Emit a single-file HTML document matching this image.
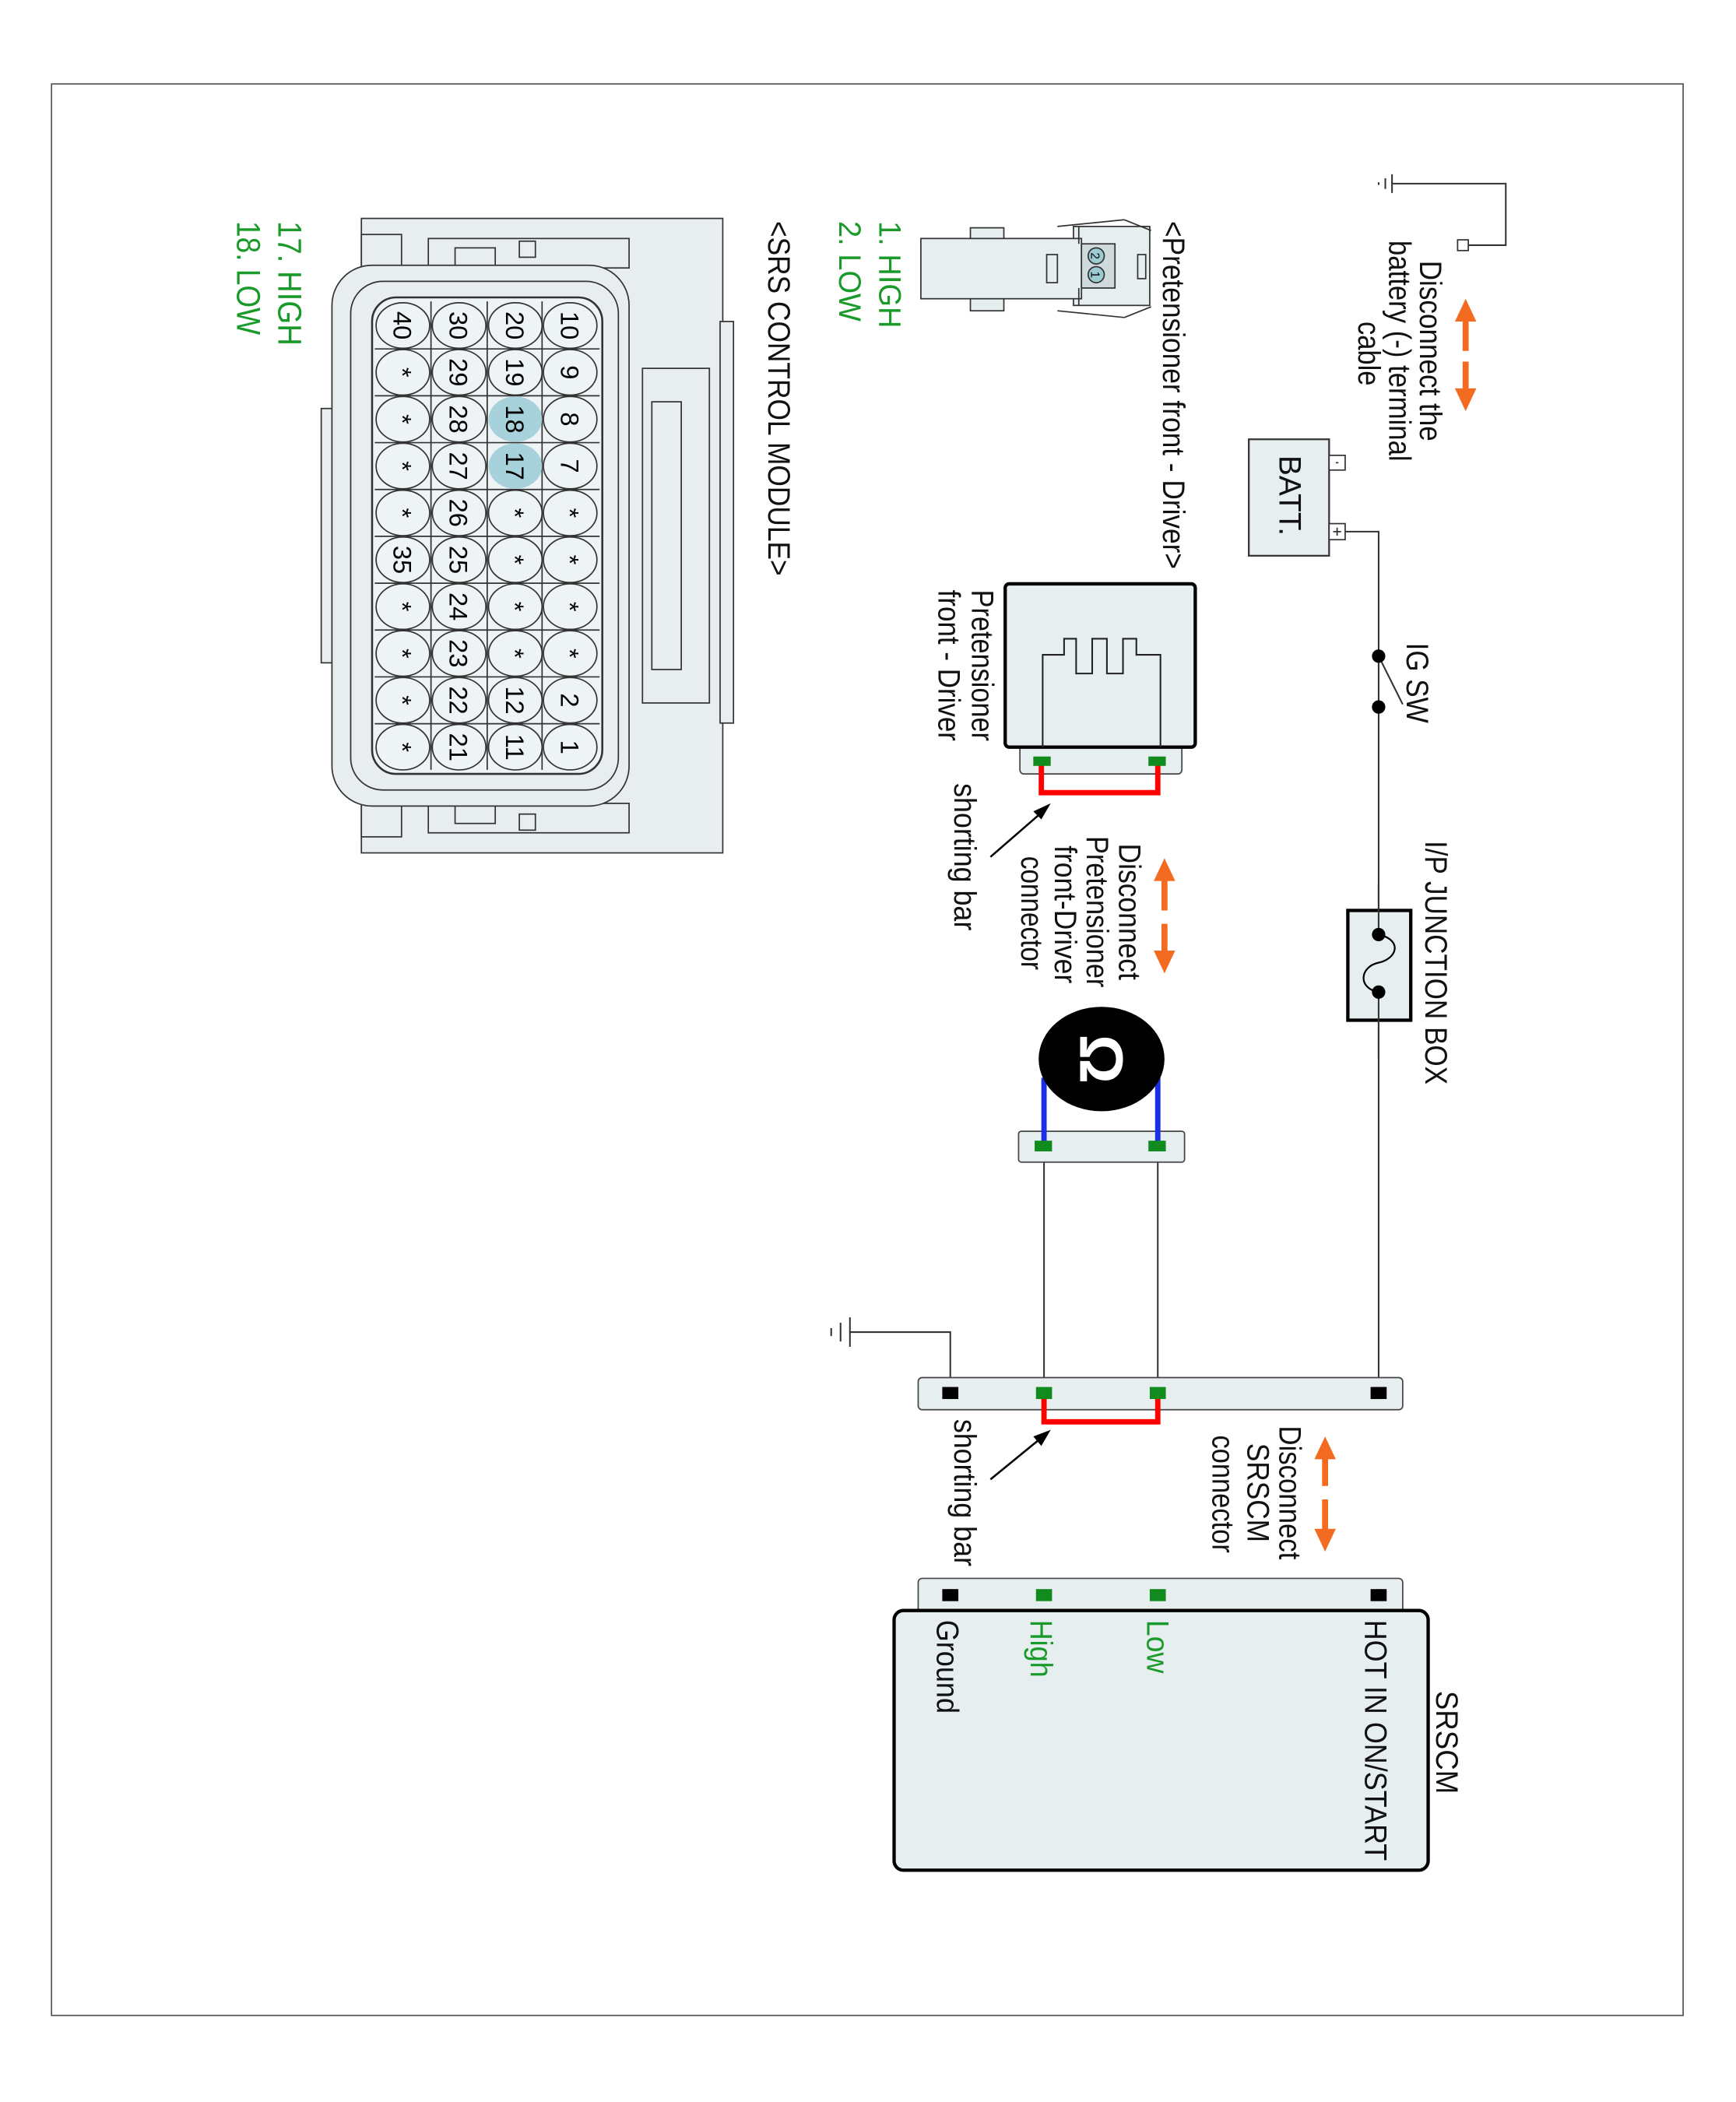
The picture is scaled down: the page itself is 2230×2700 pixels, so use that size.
<!DOCTYPE html>
<html><head><meta charset="utf-8"><style>html,body{margin:0;padding:0;background:#fff}svg{display:block}text{font-family:"Liberation Sans",sans-serif}</style></head>
<body>
<svg width="2230" height="2700" viewBox="0 0 1297 1570" xmlns="http://www.w3.org/2000/svg">
<rect x="0" y="0" width="1297" height="1570" fill="#fff"/>
<rect x="38.5" y="62.5" width="1219" height="1443" fill="none" stroke="#555" stroke-width="1"/>

<g stroke="#333" stroke-width="1.2" fill="none">
<polyline points="1097,183 1125,183 1125,137 1040,137"/>
<line x1="1040" y1="130" x2="1040" y2="144"/><line x1="1035" y1="133" x2="1035" y2="141"/><line x1="1030" y1="136" x2="1030" y2="138"/>
<polyline points="1005,397 1030,397 1030,1040"/>
<line x1="1030" y1="490" x2="1048" y2="526"/>
<polyline points="710,1040 710,995 635,995"/>
<line x1="635" y1="984" x2="635" y2="1006"/><line x1="628" y1="988" x2="628" y2="1002"/><line x1="621" y1="992" x2="621" y2="998"/>
<line x1="865" y1="856" x2="865" y2="1040"/><line x1="780" y1="856" x2="780" y2="1040"/>
</g>
<rect x="1089" y="179" width="8" height="8" fill="#fff" stroke="#333"/>

<rect x="933" y="328" width="60" height="87" fill="#e7eef0" stroke="#333" stroke-width="1.3"/>
<rect x="993" y="340" width="12" height="11" fill="#fff" stroke="#333"/>
<rect x="993" y="391" width="12" height="12" fill="#fff" stroke="#333"/>
<line x1="996" y1="397" x2="1002" y2="397" stroke="#333"/><line x1="999" y1="394" x2="999" y2="400" stroke="#333"/>
<line x1="998" y1="345.5" x2="1000" y2="345.5" stroke="#333"/>
<circle cx="1030" cy="490" r="5" fill="#000"/><circle cx="1030" cy="528" r="5" fill="#000"/>

<rect x="1007" y="680" width="47" height="82" fill="#e7eef0" stroke="#000" stroke-width="2.5"/>
<line x1="1030" y1="660" x2="1030" y2="698" stroke="#333" stroke-width="1.2"/>
<line x1="1030" y1="741" x2="1030" y2="790" stroke="#333" stroke-width="1.2"/>
<path d="M1030,698 C1048,702 1044,716 1030,719 C1016,722 1014,738 1030,741" fill="none" stroke="#000" stroke-width="1.3"/>
<circle cx="1030" cy="698" r="5" fill="#000"/><circle cx="1030" cy="741" r="5" fill="#000"/>

<g fill="#f26b21" stroke="#f26b21" stroke-width="4.5">
<line x1="1095" y1="236" x2="1095" y2="262"/><polygon points="1087,240 1103,240 1095,223" stroke="none"/>
<line x1="1095" y1="270" x2="1095" y2="294"/><polygon points="1087,290 1103,290 1095,307" stroke="none"/>
<line x1="870" y1="654" x2="870" y2="680"/><polygon points="862,658 878,658 870,641" stroke="none"/>
<line x1="870" y1="690" x2="870" y2="714"/><polygon points="862,710 878,710 870,727" stroke="none"/>
<line x1="990" y1="1086" x2="990" y2="1110"/><polygon points="982,1090 998,1090 990,1073" stroke="none"/>
<line x1="990" y1="1120" x2="990" y2="1146"/><polygon points="982,1142 998,1142 990,1159" stroke="none"/>
</g>

<rect x="762" y="556" width="121" height="22" rx="3" fill="#e7eef0" stroke="#444" stroke-width="1"/>
<rect x="751" y="436" width="142" height="122" rx="3" fill="#e7eef0" stroke="#000" stroke-width="2.5"/>
<polyline points="779,558 779,489 795,489 795,477 804,477 804,503 816,503 816,477 827,477 827,503 839,503 839,477 849,477 849,489 867,489 867,558" fill="none" stroke="#222" stroke-width="1.2"/>
<polyline points="865,568 865,592 778,592 778,568" fill="none" stroke="#f00" stroke-width="4"/>
<rect x="772" y="565" width="13" height="7" fill="#118a1e"/><rect x="858" y="565" width="13" height="7" fill="#118a1e"/>
<line x1="740" y1="640" x2="778" y2="607" stroke="#000" stroke-width="1.5"/><polygon points="785,600 772,606 778,612" fill="#000"/>

<rect x="761" y="845" width="124" height="23" rx="2" fill="#e7eef0" stroke="#444"/>
<line x1="780" y1="856" x2="780" y2="805" stroke="#1a2ee6" stroke-width="4"/>
<line x1="865" y1="856" x2="865" y2="805" stroke="#1a2ee6" stroke-width="4"/>
<ellipse cx="823" cy="791" rx="47" ry="39" fill="#000"/>
<text x="823" y="791" transform="rotate(90 823 791)" font-size="46" font-weight="bold" fill="#fff" text-anchor="middle" dominant-baseline="central">Ω</text>
<rect x="773" y="852" width="13" height="8" fill="#118a1e"/><rect x="858" y="852" width="13" height="8" fill="#118a1e"/>

<rect x="686" y="1029" width="362" height="24" rx="3" fill="#e7eef0" stroke="#444"/>
<rect x="1024" y="1036" width="12" height="9" fill="#000"/><rect x="704" y="1036" width="12" height="9" fill="#000"/>
<polyline points="865,1042 865,1062 780,1062 780,1042" fill="none" stroke="#f00" stroke-width="4"/>
<rect x="859" y="1036" width="12" height="9" fill="#118a1e"/><rect x="774" y="1036" width="12" height="9" fill="#118a1e"/>
<line x1="740" y1="1105" x2="778" y2="1074" stroke="#000" stroke-width="1.5"/><polygon points="785,1068 772,1073 778,1080" fill="#000"/>

<rect x="686" y="1179" width="362" height="30" rx="3" fill="#e7eef0" stroke="#444"/>
<rect x="668" y="1203" width="399" height="194" rx="7" fill="#e7eef0" stroke="#000" stroke-width="2.5"/>
<rect x="1024" y="1187" width="12" height="9" fill="#000"/><rect x="704" y="1187" width="12" height="9" fill="#000"/>
<rect x="859" y="1187" width="12" height="9" fill="#118a1e"/><rect x="774" y="1187" width="12" height="9" fill="#118a1e"/>

<!-- small pretensioner connector -->
<g stroke="#333" stroke-width="1" fill="#e7eef0">
<rect x="725" y="170" width="25" height="62"/>
<rect x="802" y="169" width="57" height="59"/>
<rect x="688" y="178" width="120" height="45"/>
<rect x="782" y="190" width="8" height="21"/>
<rect x="808" y="182" width="25" height="33" fill="#cfdadd"/>
<rect x="850" y="190" width="6" height="18"/>
<line x1="806" y1="169" x2="806" y2="182" fill="none"/><line x1="806" y1="215" x2="806" y2="228" fill="none"/>
<line x1="790" y1="169" x2="840" y2="164" fill="none"/><line x1="790" y1="232" x2="840" y2="237" fill="none"/>
<line x1="840" y1="164" x2="860" y2="172" fill="none"/><line x1="840" y1="237" x2="860" y2="229" fill="none"/>
</g>
<circle cx="819" cy="191" r="6" fill="#9ccbd4" stroke="#333"/><circle cx="819" cy="205" r="6" fill="#9ccbd4" stroke="#333"/>
<text x="815" y="191" transform="rotate(90 815 191)" font-size="9" text-anchor="middle">2</text>
<text x="815" y="205" transform="rotate(90 815 205)" font-size="9" text-anchor="middle">1</text>

<g stroke="#333" stroke-width="1" fill="#e8eef0">
<rect x="270" y="163" width="270" height="474"/>
<rect x="538" y="240" width="10" height="300"/>
<rect x="480" y="275" width="50" height="250"/>
<rect x="487" y="300" width="22" height="200"/>
<rect x="240" y="305" width="12" height="190"/>
<rect x="270" y="175" width="30" height="25"/><rect x="270" y="600" width="30" height="25"/>
<rect x="320" y="178" width="150" height="22"/><rect x="320" y="600" width="150" height="22"/>
<rect x="340" y="185" width="30" height="15"/><rect x="340" y="600" width="30" height="15"/>
<rect x="388" y="180" width="12" height="12"/><rect x="388" y="608" width="12" height="12"/>
<rect x="248" y="198" width="222" height="404" rx="30"/>
<rect x="262" y="210" width="200" height="380" rx="24"/>
<rect x="278" y="222" width="172" height="356" rx="18" fill="#eef3f5" stroke-width="1.5"/>
</g>
<g stroke="#333" stroke-width="1">
<line x1="322" y1="225" x2="322" y2="575"/><line x1="364" y1="225" x2="364" y2="575"/><line x1="405" y1="225" x2="405" y2="575"/>
<line x1="280" y1="260.5" x2="448" y2="260.5"/><line x1="280" y1="295.5" x2="448" y2="295.5"/><line x1="280" y1="330.5" x2="448" y2="330.5"/><line x1="280" y1="365.5" x2="448" y2="365.5"/><line x1="280" y1="400.5" x2="448" y2="400.5"/><line x1="280" y1="435.5" x2="448" y2="435.5"/><line x1="280" y1="470.5" x2="448" y2="470.5"/><line x1="280" y1="505.5" x2="448" y2="505.5"/><line x1="280" y1="540.5" x2="448" y2="540.5"/>
</g>

<g font-size="23" fill="#111">
<text x="1061" y="262" transform="rotate(90 1061 262)" text-anchor="middle" textLength="135" lengthAdjust="spacingAndGlyphs">Disconnect the</text>
<text x="1038" y="262" transform="rotate(90 1038 262)" text-anchor="middle" textLength="165" lengthAdjust="spacingAndGlyphs">battery (-) terminal</text>
<text x="1015" y="264" transform="rotate(90 1015 264)" text-anchor="middle" textLength="48" lengthAdjust="spacingAndGlyphs">cable</text>
<text x="956" y="370" transform="rotate(90 956 370)" text-anchor="middle" textLength="60" lengthAdjust="spacingAndGlyphs">BATT.</text>
<text x="1051" y="480" transform="rotate(90 1051 480)" textLength="60" lengthAdjust="spacingAndGlyphs">IG SW</text>
<text x="1065" y="628" transform="rotate(90 1065 628)" textLength="182" lengthAdjust="spacingAndGlyphs">I/P JUNCTION BOX</text>
<text x="869" y="165" transform="rotate(90 869 165)" textLength="260" lengthAdjust="spacingAndGlyphs">&lt;Pretensioner front - Driver&gt;</text>
<text x="726" y="497" transform="rotate(90 726 497)" text-anchor="middle" textLength="113" lengthAdjust="spacingAndGlyphs">Pretensioner</text>
<text x="701" y="497" transform="rotate(90 701 497)" text-anchor="middle" textLength="113" lengthAdjust="spacingAndGlyphs">front - Driver</text>
<text x="836" y="681" transform="rotate(90 836 681)" text-anchor="middle" textLength="102" lengthAdjust="spacingAndGlyphs">Disconnect</text>
<text x="812" y="681" transform="rotate(90 812 681)" text-anchor="middle" textLength="113" lengthAdjust="spacingAndGlyphs">Pretensioner</text>
<text x="788" y="683" transform="rotate(90 788 683)" text-anchor="middle" textLength="103" lengthAdjust="spacingAndGlyphs">front-Driver</text>
<text x="763" y="682" transform="rotate(90 763 682)" text-anchor="middle" textLength="85" lengthAdjust="spacingAndGlyphs">connector</text>
<text x="713" y="585" transform="rotate(90 713 585)" textLength="110" lengthAdjust="spacingAndGlyphs">shorting bar</text>
<text x="713" y="1060" transform="rotate(90 713 1060)" textLength="110" lengthAdjust="spacingAndGlyphs">shorting bar</text>
<text x="956" y="1115" transform="rotate(90 956 1115)" text-anchor="middle" textLength="100" lengthAdjust="spacingAndGlyphs">Disconnect</text>
<text x="932" y="1115" transform="rotate(90 932 1115)" text-anchor="middle" textLength="74" lengthAdjust="spacingAndGlyphs">SRSCM</text>
<text x="906" y="1116" transform="rotate(90 906 1116)" text-anchor="middle" textLength="88" lengthAdjust="spacingAndGlyphs">connector</text>
<text x="1073" y="1263" transform="rotate(90 1073 1263)" textLength="77" lengthAdjust="spacingAndGlyphs">SRSCM</text>
<text x="1020" y="1210" transform="rotate(90 1020 1210)" textLength="180" lengthAdjust="spacingAndGlyphs">HOT IN ON/START</text>
<text x="700" y="1210" transform="rotate(90 700 1210)" textLength="70" lengthAdjust="spacingAndGlyphs">Ground</text>
<text x="574" y="165" transform="rotate(90 574 165)" textLength="265" lengthAdjust="spacingAndGlyphs">&lt;SRS CONTROL MODULE&gt;</text>
</g>
<g font-size="23" fill="#1a9a2a">
<text x="857" y="1210" transform="rotate(90 857 1210)" textLength="40" lengthAdjust="spacingAndGlyphs">Low</text>
<text x="770" y="1210" transform="rotate(90 770 1210)" textLength="43" lengthAdjust="spacingAndGlyphs">High</text>
<text x="657" y="165" transform="rotate(90 657 165)" textLength="80" lengthAdjust="spacingAndGlyphs">1. HIGH</text>
<text x="627" y="165" transform="rotate(90 627 165)" textLength="75" lengthAdjust="spacingAndGlyphs">2. LOW</text>
<text x="208" y="165" transform="rotate(90 208 165)" font-size="25" textLength="93" lengthAdjust="spacingAndGlyphs">17. HIGH</text>
<text x="177" y="165" transform="rotate(90 177 165)" font-size="25" textLength="85" lengthAdjust="spacingAndGlyphs">18. LOW</text>
</g>

<g stroke="#333" stroke-width="1" font-size="19" text-anchor="middle">
<ellipse cx="426" cy="243" rx="20" ry="17" fill="#eef3f5"/><text x="419" y="243" transform="rotate(90 419 243)" stroke="none">10</text>
<ellipse cx="426" cy="278" rx="20" ry="17" fill="#eef3f5"/><text x="419" y="278" transform="rotate(90 419 278)" stroke="none">9</text>
<ellipse cx="426" cy="313" rx="20" ry="17" fill="#eef3f5"/><text x="419" y="313" transform="rotate(90 419 313)" stroke="none">8</text>
<ellipse cx="426" cy="348" rx="20" ry="17" fill="#eef3f5"/><text x="419" y="348" transform="rotate(90 419 348)" stroke="none">7</text>
<ellipse cx="426" cy="383" rx="20" ry="17" fill="#eef3f5"/><text x="419" y="383" transform="rotate(90 419 383)" stroke="none">*</text>
<ellipse cx="426" cy="418" rx="20" ry="17" fill="#eef3f5"/><text x="419" y="418" transform="rotate(90 419 418)" stroke="none">*</text>
<ellipse cx="426" cy="453" rx="20" ry="17" fill="#eef3f5"/><text x="419" y="453" transform="rotate(90 419 453)" stroke="none">*</text>
<ellipse cx="426" cy="488" rx="20" ry="17" fill="#eef3f5"/><text x="419" y="488" transform="rotate(90 419 488)" stroke="none">*</text>
<ellipse cx="426" cy="523" rx="20" ry="17" fill="#eef3f5"/><text x="419" y="523" transform="rotate(90 419 523)" stroke="none">2</text>
<ellipse cx="426" cy="558" rx="20" ry="17" fill="#eef3f5"/><text x="419" y="558" transform="rotate(90 419 558)" stroke="none">1</text>

<ellipse cx="385" cy="243" rx="20" ry="17" fill="#eef3f5"/><text x="378" y="243" transform="rotate(90 378 243)" stroke="none">20</text>
<ellipse cx="385" cy="278" rx="20" ry="17" fill="#eef3f5"/><text x="378" y="278" transform="rotate(90 378 278)" stroke="none">19</text>
<ellipse cx="385" cy="313" rx="20" ry="17" fill="#a7d2db" stroke="none"/><text x="378" y="313" transform="rotate(90 378 313)" stroke="none">18</text>
<ellipse cx="385" cy="348" rx="20" ry="17" fill="#a7d2db" stroke="none"/><text x="378" y="348" transform="rotate(90 378 348)" stroke="none">17</text>
<ellipse cx="385" cy="383" rx="20" ry="17" fill="#eef3f5"/><text x="378" y="383" transform="rotate(90 378 383)" stroke="none">*</text>
<ellipse cx="385" cy="418" rx="20" ry="17" fill="#eef3f5"/><text x="378" y="418" transform="rotate(90 378 418)" stroke="none">*</text>
<ellipse cx="385" cy="453" rx="20" ry="17" fill="#eef3f5"/><text x="378" y="453" transform="rotate(90 378 453)" stroke="none">*</text>
<ellipse cx="385" cy="488" rx="20" ry="17" fill="#eef3f5"/><text x="378" y="488" transform="rotate(90 378 488)" stroke="none">*</text>
<ellipse cx="385" cy="523" rx="20" ry="17" fill="#eef3f5"/><text x="378" y="523" transform="rotate(90 378 523)" stroke="none">12</text>
<ellipse cx="385" cy="558" rx="20" ry="17" fill="#eef3f5"/><text x="378" y="558" transform="rotate(90 378 558)" stroke="none">11</text>

<ellipse cx="343" cy="243" rx="20" ry="17" fill="#eef3f5"/><text x="336" y="243" transform="rotate(90 336 243)" stroke="none">30</text>
<ellipse cx="343" cy="278" rx="20" ry="17" fill="#eef3f5"/><text x="336" y="278" transform="rotate(90 336 278)" stroke="none">29</text>
<ellipse cx="343" cy="313" rx="20" ry="17" fill="#eef3f5"/><text x="336" y="313" transform="rotate(90 336 313)" stroke="none">28</text>
<ellipse cx="343" cy="348" rx="20" ry="17" fill="#eef3f5"/><text x="336" y="348" transform="rotate(90 336 348)" stroke="none">27</text>
<ellipse cx="343" cy="383" rx="20" ry="17" fill="#eef3f5"/><text x="336" y="383" transform="rotate(90 336 383)" stroke="none">26</text>
<ellipse cx="343" cy="418" rx="20" ry="17" fill="#eef3f5"/><text x="336" y="418" transform="rotate(90 336 418)" stroke="none">25</text>
<ellipse cx="343" cy="453" rx="20" ry="17" fill="#eef3f5"/><text x="336" y="453" transform="rotate(90 336 453)" stroke="none">24</text>
<ellipse cx="343" cy="488" rx="20" ry="17" fill="#eef3f5"/><text x="336" y="488" transform="rotate(90 336 488)" stroke="none">23</text>
<ellipse cx="343" cy="523" rx="20" ry="17" fill="#eef3f5"/><text x="336" y="523" transform="rotate(90 336 523)" stroke="none">22</text>
<ellipse cx="343" cy="558" rx="20" ry="17" fill="#eef3f5"/><text x="336" y="558" transform="rotate(90 336 558)" stroke="none">21</text>

<ellipse cx="301" cy="243" rx="20" ry="17" fill="#eef3f5"/><text x="294" y="243" transform="rotate(90 294 243)" stroke="none">40</text>
<ellipse cx="301" cy="278" rx="20" ry="17" fill="#eef3f5"/><text x="294" y="278" transform="rotate(90 294 278)" stroke="none">*</text>
<ellipse cx="301" cy="313" rx="20" ry="17" fill="#eef3f5"/><text x="294" y="313" transform="rotate(90 294 313)" stroke="none">*</text>
<ellipse cx="301" cy="348" rx="20" ry="17" fill="#eef3f5"/><text x="294" y="348" transform="rotate(90 294 348)" stroke="none">*</text>
<ellipse cx="301" cy="383" rx="20" ry="17" fill="#eef3f5"/><text x="294" y="383" transform="rotate(90 294 383)" stroke="none">*</text>
<ellipse cx="301" cy="418" rx="20" ry="17" fill="#eef3f5"/><text x="294" y="418" transform="rotate(90 294 418)" stroke="none">35</text>
<ellipse cx="301" cy="453" rx="20" ry="17" fill="#eef3f5"/><text x="294" y="453" transform="rotate(90 294 453)" stroke="none">*</text>
<ellipse cx="301" cy="488" rx="20" ry="17" fill="#eef3f5"/><text x="294" y="488" transform="rotate(90 294 488)" stroke="none">*</text>
<ellipse cx="301" cy="523" rx="20" ry="17" fill="#eef3f5"/><text x="294" y="523" transform="rotate(90 294 523)" stroke="none">*</text>
<ellipse cx="301" cy="558" rx="20" ry="17" fill="#eef3f5"/><text x="294" y="558" transform="rotate(90 294 558)" stroke="none">*</text>
</g>
</svg>
</body></html>
